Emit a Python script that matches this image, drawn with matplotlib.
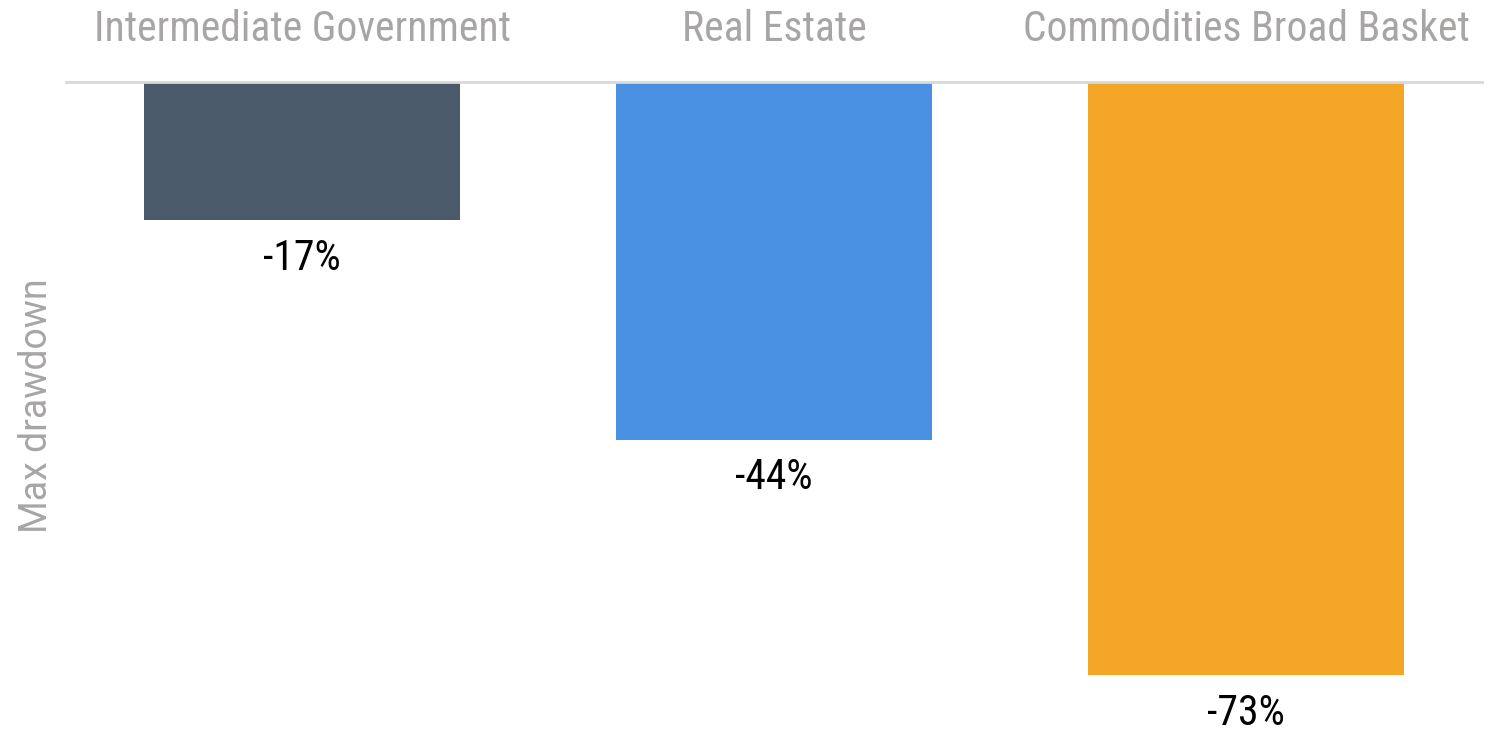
import matplotlib
matplotlib.use("Agg")
import matplotlib.pyplot as plt
from matplotlib import font_manager

categories = ["Intermediate Government", "Real Estate", "Commodities Broad Basket"]
drawdown = [-17, -44, -73]
bar_colors = ["#4a5a6b", "#4a90e2", "#f4a626"]

# pick a condensed face if one is installed
names = set(f.name for f in font_manager.fontManager.ttflist)
cond = "Roboto"
for cand in ["Roboto Condensed", "Liberation Sans Narrow", "Roboto"]:
	if cand in names:
		cond = cand
		break

plt.rcParams['font.family'] = ["Roboto", "DejaVu Sans"]

fig = plt.figure(figsize=(14.96, 7.32), dpi=100)
ax = fig.add_axes([66/1496, 0, 1416/1496, 650/732])

x = range(len(categories))
ax.bar(x, drawdown, width=0.668, color=bar_colors)
ax.set_xlim(-0.5, 2.5)
ax.set_ylim(-80, 0)

for i, v in enumerate(drawdown):
	ax.text(i, v - 2.2, "%d%%" % v, ha="center", va="top", fontsize=30,
		family=[cond, "DejaVu Sans"], color="black")

ax.xaxis.tick_top()
ax.set_xticks(list(x))
ax.set_xticklabels(categories, fontsize=30, color="#a8a5a5", family=[cond, "DejaVu Sans"])
ax.tick_params(axis="x", length=0, pad=23)
ax.set_yticks([])

for s in ["left", "right", "bottom"]:
	ax.spines[s].set_visible(False)
ax.spines["top"].set_color("#d9d9d9")
ax.spines["top"].set_linewidth(2)

fig.text(37/1496, 1 - 406/732, "Max drawdown", rotation=90, ha="center", va="center",
	fontsize=27, color="#a8a5a5")

fig.savefig("out.png", dpi=100)
